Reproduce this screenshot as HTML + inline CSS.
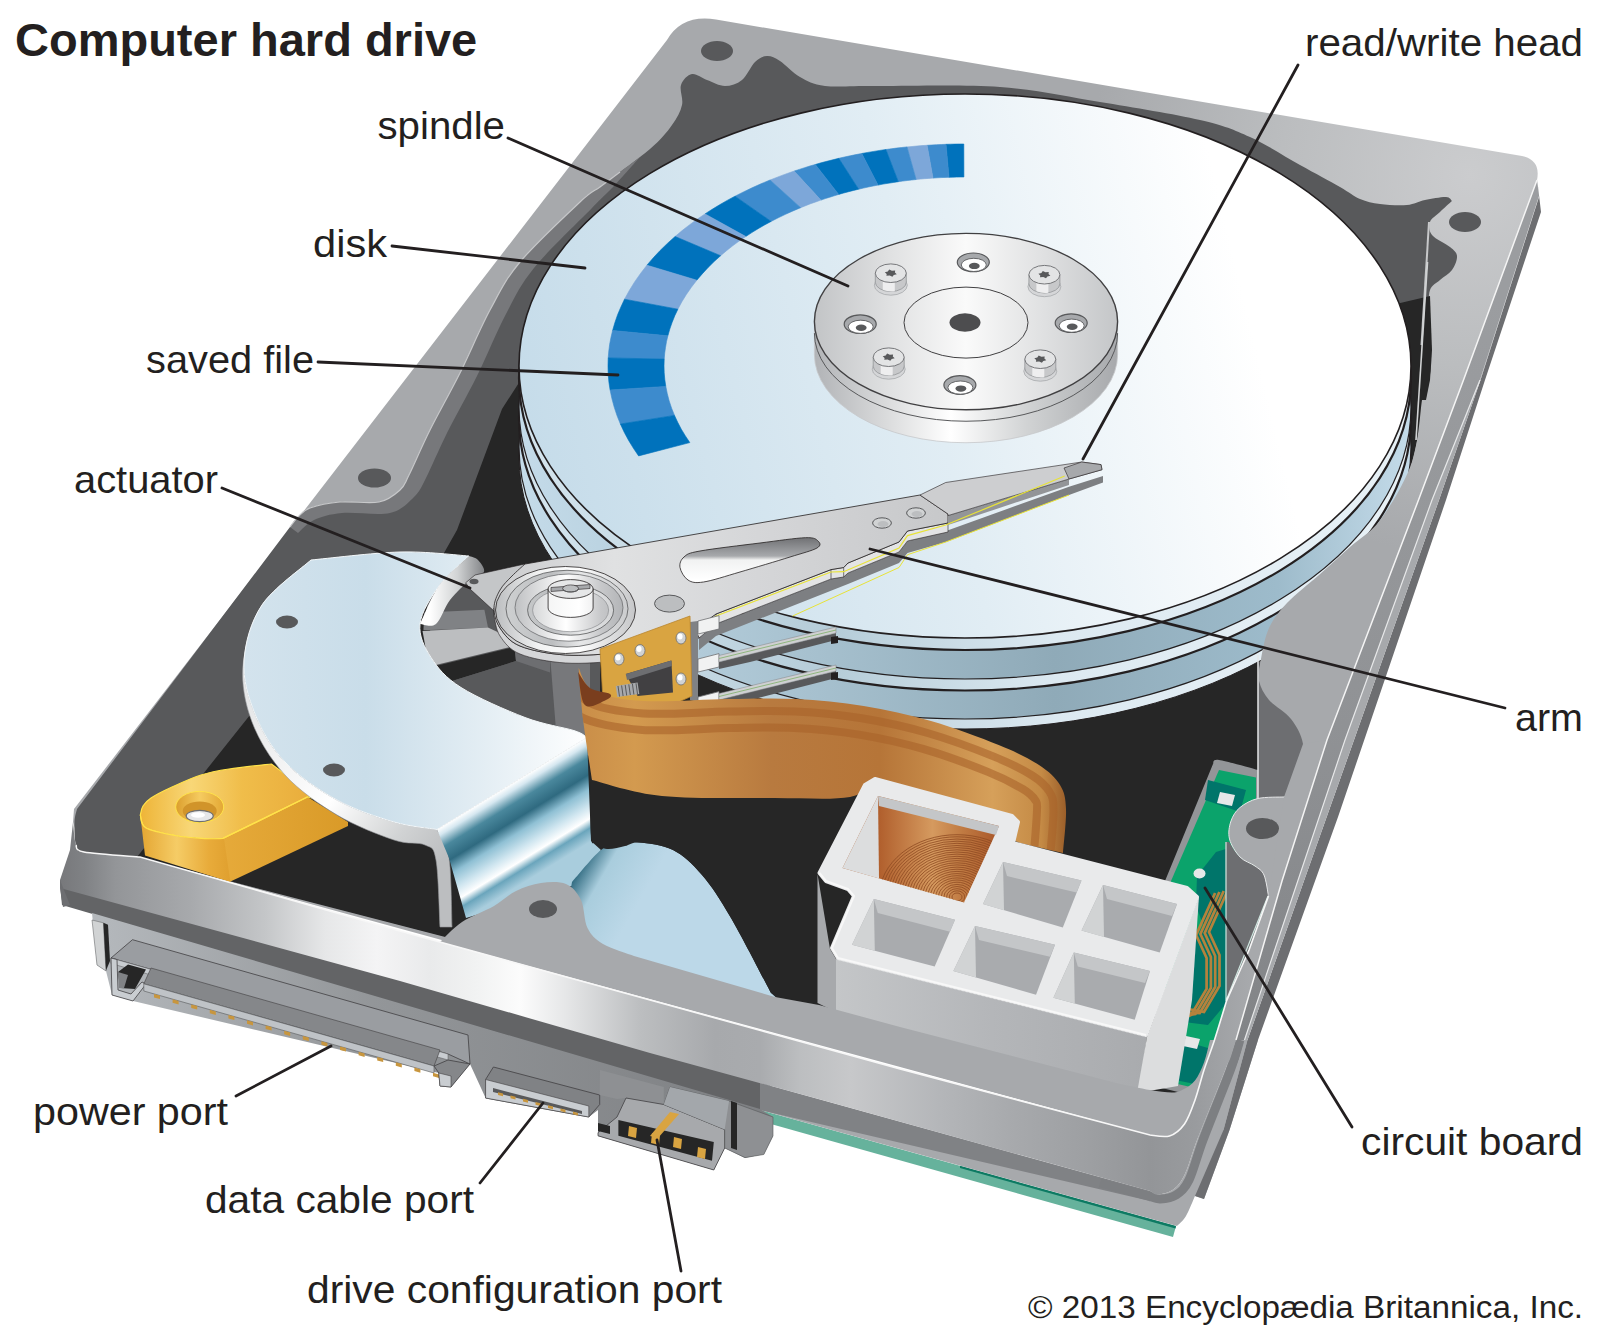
<!DOCTYPE html>
<html><head><meta charset="utf-8"><title>Computer hard drive</title>
<style>html,body{margin:0;padding:0;background:#fff}svg{display:block}text{font-family:"Liberation Sans",sans-serif;fill:#231f20}</style>
</head><body>
<svg width="1600" height="1334" viewBox="0 0 1600 1334">
<defs>
<radialGradient id="gtop" gradientUnits="userSpaceOnUse" cx="1470" cy="175" r="380"><stop offset="0" stop-color="#cbccce"/><stop offset="0.5" stop-color="#bbbdbf"/><stop offset="1" stop-color="#a7a9ac"/></radialGradient>
<linearGradient id="gdisk" gradientUnits="userSpaceOnUse" x1="520" y1="500" x2="1350" y2="300"><stop offset="0" stop-color="#c4dbe9"/><stop offset="0.5" stop-color="#e1edf4"/><stop offset="0.88" stop-color="#ffffff"/><stop offset="1" stop-color="#ffffff"/></linearGradient>
<linearGradient id="gsurf" gradientUnits="userSpaceOnUse" x1="520" y1="0" x2="1411" y2="0"><stop offset="0" stop-color="#c4dbe9"/><stop offset="0.3" stop-color="#a9c3d1"/><stop offset="0.6" stop-color="#8faab8"/><stop offset="0.85" stop-color="#9dbbcb"/><stop offset="1" stop-color="#c4dbe9"/></linearGradient>
<linearGradient id="gedge" gradientUnits="userSpaceOnUse" x1="520" y1="0" x2="1411" y2="0"><stop offset="0" stop-color="#d5e5ee"/><stop offset="0.35" stop-color="#b5ccd8"/><stop offset="0.6" stop-color="#dce9f1"/><stop offset="1" stop-color="#e8f1f6"/></linearGradient>
<linearGradient id="ghub" gradientUnits="userSpaceOnUse" x1="814" y1="0" x2="1118" y2="0"><stop offset="0" stop-color="#c2c4c6"/><stop offset="0.25" stop-color="#e0e1e2"/><stop offset="0.5" stop-color="#fafafa"/><stop offset="0.75" stop-color="#e0e1e2"/><stop offset="1" stop-color="#c4c6c8"/></linearGradient>
<linearGradient id="ghubs" gradientUnits="userSpaceOnUse" x1="814" y1="0" x2="1118" y2="0"><stop offset="0" stop-color="#b1b3b6"/><stop offset="0.25" stop-color="#dcddde"/><stop offset="0.45" stop-color="#ffffff"/><stop offset="0.7" stop-color="#d1d3d4"/><stop offset="1" stop-color="#a7a9ac"/></linearGradient>
<linearGradient id="gscr" gradientUnits="userSpaceOnUse" x1="0" y1="0" x2="1" y2="0"><stop offset="0" stop-color="#d1d3d4"/><stop offset="0.4" stop-color="#f4f4f5"/><stop offset="1" stop-color="#b1b3b6"/></linearGradient>
<linearGradient id="gyel" gradientUnits="userSpaceOnUse" x1="140" y1="0" x2="310" y2="0"><stop offset="0" stop-color="#eeb437"/><stop offset="0.3" stop-color="#f8d777"/><stop offset="0.6" stop-color="#f0bd4a"/><stop offset="1" stop-color="#e9ad3c"/></linearGradient>
<linearGradient id="gyelf" gradientUnits="userSpaceOnUse" x1="140" y1="0" x2="232" y2="0"><stop offset="0" stop-color="#e4a531"/><stop offset="0.4" stop-color="#f5cc66"/><stop offset="0.75" stop-color="#e8ab3a"/><stop offset="1" stop-color="#df9f2e"/></linearGradient>
<linearGradient id="gyelr" gradientUnits="userSpaceOnUse" x1="223" y1="0" x2="348" y2="0"><stop offset="0" stop-color="#e6aa3a"/><stop offset="1" stop-color="#d99a28"/></linearGradient>
<linearGradient id="gyelh" gradientUnits="userSpaceOnUse" x1="176" y1="0" x2="224" y2="0"><stop offset="0" stop-color="#dc9f2e"/><stop offset="0.5" stop-color="#f5cb60"/><stop offset="1" stop-color="#e3a734"/></linearGradient>
<linearGradient id="gplate" gradientUnits="userSpaceOnUse" x1="245" y1="0" x2="590" y2="0"><stop offset="0" stop-color="#d3e3ed"/><stop offset="0.35" stop-color="#c9dde9"/><stop offset="0.7" stop-color="#e4eef4"/><stop offset="1" stop-color="#ffffff"/></linearGradient>
<linearGradient id="grim" gradientUnits="userSpaceOnUse" x1="250" y1="700" x2="450" y2="850"><stop offset="0" stop-color="#e6e7e8"/><stop offset="0.5" stop-color="#ffffff"/><stop offset="0.8" stop-color="#d1d3d4"/><stop offset="1" stop-color="#bcbec0"/></linearGradient>
<linearGradient id="gcurl" gradientUnits="userSpaceOnUse" x1="430" y1="0" x2="485" y2="0"><stop offset="0" stop-color="#ffffff"/><stop offset="0.5" stop-color="#d1d3d4"/><stop offset="1" stop-color="#808285"/></linearGradient>
<linearGradient id="gfold" gradientUnits="userSpaceOnUse" x1="512" y1="783.5" x2="559.4" y2="860.7"><stop offset="0" stop-color="#ffffff"/><stop offset="0.07" stop-color="#d5e7f0"/><stop offset="0.2" stop-color="#4a889d"/><stop offset="0.36" stop-color="#2f6a80"/><stop offset="0.5" stop-color="#8fc0d4"/><stop offset="0.66" stop-color="#d0e6f0"/><stop offset="0.78" stop-color="#ffffff"/><stop offset="0.87" stop-color="#6aa5bc"/><stop offset="1" stop-color="#a9cddd"/></linearGradient>
<linearGradient id="glow" gradientUnits="userSpaceOnUse" x1="570" y1="860" x2="640" y2="900"><stop offset="0" stop-color="#ffffff"/><stop offset="0.15" stop-color="#2f6a80"/><stop offset="0.45" stop-color="#a9cddd"/><stop offset="1" stop-color="#bcd8e8"/></linearGradient>
<linearGradient id="garm" gradientUnits="userSpaceOnUse" x1="470" y1="0" x2="950" y2="0"><stop offset="0" stop-color="#c7c8ca"/><stop offset="0.3" stop-color="#e0e1e2"/><stop offset="0.6" stop-color="#d5d6d8"/><stop offset="1" stop-color="#c7c8ca"/></linearGradient>
<linearGradient id="gslot" gradientUnits="userSpaceOnUse" x1="0" y1="540" x2="0" y2="580"><stop offset="0" stop-color="#77787b"/><stop offset="0.4" stop-color="#a7a9ac"/><stop offset="0.5" stop-color="#f1f2f2"/><stop offset="1" stop-color="#ffffff"/></linearGradient>
<linearGradient id="ghb" gradientUnits="userSpaceOnUse" x1="496" y1="0" x2="634" y2="0"><stop offset="0" stop-color="#bcbec0"/><stop offset="0.3" stop-color="#f1f2f2"/><stop offset="0.6" stop-color="#ffffff"/><stop offset="1" stop-color="#c7c8ca"/></linearGradient>
<linearGradient id="ghb2" gradientUnits="userSpaceOnUse" x1="496" y1="0" x2="636" y2="0"><stop offset="0" stop-color="#a7a9ac"/><stop offset="0.3" stop-color="#dcddde"/><stop offset="0.5" stop-color="#ffffff"/><stop offset="0.75" stop-color="#c7c8ca"/><stop offset="1" stop-color="#a7a9ac"/></linearGradient>
<linearGradient id="ghb3" gradientUnits="userSpaceOnUse" x1="496" y1="0" x2="636" y2="0"><stop offset="0" stop-color="#d1d3d4"/><stop offset="0.4" stop-color="#bcbec0"/><stop offset="0.6" stop-color="#e6e7e8"/><stop offset="1" stop-color="#c7c8ca"/></linearGradient>
<linearGradient id="grib" gradientUnits="userSpaceOnUse" x1="576" y1="0" x2="1066" y2="0"><stop offset="0" stop-color="#c98d48"/><stop offset="0.12" stop-color="#d39a4f"/><stop offset="0.4" stop-color="#b87a3f"/><stop offset="0.62" stop-color="#b67538"/><stop offset="0.85" stop-color="#d6a05a"/><stop offset="0.95" stop-color="#c48a45"/><stop offset="1" stop-color="#9c5f2a"/></linearGradient>
<linearGradient id="gcf" gradientUnits="userSpaceOnUse" x1="836" y1="0" x2="1147" y2="0"><stop offset="0" stop-color="#c4c6c8"/><stop offset="0.5" stop-color="#b4b6b9"/><stop offset="1" stop-color="#a9abae"/></linearGradient>
<linearGradient id="gcop" gradientUnits="userSpaceOnUse" x1="878" y1="0" x2="999" y2="0"><stop offset="0" stop-color="#b05e2c"/><stop offset="0.45" stop-color="#d59a5f"/><stop offset="0.7" stop-color="#c07a42"/><stop offset="1" stop-color="#a9572a"/></linearGradient>
<linearGradient id="ghouse" gradientUnits="userSpaceOnUse" x1="100" y1="0" x2="780" y2="0"><stop offset="0" stop-color="#b4b8bc"/><stop offset="0.4" stop-color="#939699"/><stop offset="1" stop-color="#7d7f82"/></linearGradient>
<linearGradient id="gband" gradientUnits="userSpaceOnUse" x1="60" y1="0" x2="1250" y2="0"><stop offset="0.0" stop-color="#77787b"/><stop offset="0.021" stop-color="#808285"/><stop offset="0.0462" stop-color="#939598"/><stop offset="0.1092" stop-color="#a7a9ac"/><stop offset="0.1723" stop-color="#c4c6c8"/><stop offset="0.2227" stop-color="#e6e7e8"/><stop offset="0.2664" stop-color="#f4f4f5"/><stop offset="0.3109" stop-color="#e9eaeb"/><stop offset="0.3487" stop-color="#f1f2f2"/><stop offset="0.3866" stop-color="#fcfcfc"/><stop offset="0.4244" stop-color="#e6e7e8"/><stop offset="0.4874" stop-color="#bcbec0"/><stop offset="0.5504" stop-color="#a7a9ac"/><stop offset="0.5882" stop-color="#a9abae"/><stop offset="0.6218" stop-color="#bcbec0"/><stop offset="0.6639" stop-color="#c7c8ca"/><stop offset="0.7395" stop-color="#b4b6b9"/><stop offset="0.8025" stop-color="#a7a9ac"/><stop offset="0.8655" stop-color="#9d9fa2"/><stop offset="0.916" stop-color="#939598"/><stop offset="0.9538" stop-color="#999b9e"/><stop offset="1.0" stop-color="#a7a9ac"/></linearGradient>
<linearGradient id="gside" gradientUnits="userSpaceOnUse" x1="0" y1="300" x2="0" y2="1150"><stop offset="0" stop-color="#9b9da0"/><stop offset="0.5" stop-color="#909295"/><stop offset="1" stop-color="#7d7f82"/></linearGradient>
</defs>
<path d="M667,40 Q682,14 716,19.5 L1522,156 Q1541,160 1537,180 L1463.5,380 L1418.5,500 L1327,740 L1282,881 L1236,1040 L1225,1070 L1198,1137 L1150,1135 L140,857 L82,850 L73,822 L74,809 Z" fill="url(#gtop)" />
<path d="M1452.0,201.0 C1450.0,202.8 1443.7,208.5 1440.0,212.0 C1436.3,215.5 1431.3,218.2 1430.0,222.0 C1428.7,225.8 1428.7,230.8 1432.0,235.0 C1435.3,239.2 1445.8,243.5 1450.0,247.0 C1454.2,250.5 1456.7,252.2 1457.0,256.0 C1457.3,259.8 1454.8,266.0 1452.0,270.0 C1449.2,274.0 1443.7,276.7 1440.0,280.0 C1436.3,283.3 1431.8,284.7 1430.0,290.0 C1428.2,295.3 1428.8,302.0 1429.0,312.0 C1429.2,322.0 1430.8,339.5 1431.0,350.0 C1431.2,360.5 1431.5,366.7 1430.0,375.0 C1428.5,383.3 1425.0,385.5 1422.0,400.0 C1419.0,414.5 1418.8,442.2 1412.0,462.0 C1405.2,481.8 1391.3,504.8 1381.0,519.0 C1370.7,533.2 1360.3,537.7 1350.0,547.0 C1339.7,556.3 1329.5,565.7 1319.0,575.0 C1308.5,584.3 1295.3,594.2 1287.0,603.0 C1278.7,611.8 1273.3,618.7 1269.0,628.0 C1264.7,637.3 1262.7,650.2 1261.0,659.0 C1259.3,667.8 1259.3,677.3 1259.0,681.0 L1258.0,800.0 L1190.0,1080.0 L1150.0,1120.0 L140.0,857.0 C130.7,856.2 94.7,854.0 84.0,852.0 C73.3,850.0 77.6,850.0 76.0,845.0 C74.4,840.0 74.3,828.0 74.5,822.0 C74.7,816.0 76.6,811.2 77.0,809.0 L290.0,527.0 C291.3,525.3 294.7,520.2 298.0,517.0 C301.3,513.8 303.0,510.5 310.0,508.0 C317.0,505.5 328.5,503.0 340.0,502.0 C351.5,501.0 369.0,504.0 379.0,502.0 C389.0,500.0 395.0,494.5 400.0,490.0 C405.0,485.5 404.0,485.0 409.0,475.0 C414.0,465.0 421.5,447.0 430.0,430.0 C438.5,413.0 450.0,393.0 460.0,373.0 C470.0,353.0 480.0,328.5 490.0,310.0 C500.0,291.5 505.0,280.0 520.0,262.0 C535.0,244.0 566.7,214.5 580.0,202.0 C593.3,189.5 588.3,195.8 600.0,187.0 C611.7,178.2 638.0,159.3 650.0,149.0 C662.0,138.7 666.7,132.3 672.0,125.0 C677.3,117.7 680.5,111.7 682.0,105.0 C683.5,98.3 679.3,90.2 681.0,85.0 C682.7,79.8 687.7,74.8 692.0,74.0 C696.3,73.2 701.5,78.0 707.0,80.0 C712.5,82.0 719.2,86.0 725.0,86.0 C730.8,86.0 737.0,84.0 742.0,80.0 C747.0,76.0 750.8,66.0 755.0,62.0 C759.2,58.0 762.8,56.2 767.0,56.0 C771.2,55.8 774.5,57.5 780.0,61.0 C785.5,64.5 792.5,72.8 800.0,77.0 C807.5,81.2 812.5,84.5 825.0,86.0 C837.5,87.5 845.8,85.8 875.0,86.0 C904.2,86.2 962.5,84.3 1000.0,87.0 C1037.5,89.7 1066.7,96.5 1100.0,102.0 C1133.3,107.5 1175.0,114.2 1200.0,120.0 C1225.0,125.8 1233.3,129.5 1250.0,137.0 C1266.7,144.5 1285.0,156.7 1300.0,165.0 C1315.0,173.3 1330.0,181.3 1340.0,187.0 C1350.0,192.7 1353.3,196.2 1360.0,199.0 C1366.7,201.8 1372.2,203.0 1380.0,204.0 C1387.8,205.0 1399.5,205.7 1407.0,205.0 C1414.5,204.3 1418.5,201.3 1425.0,200.0 C1431.5,198.7 1441.5,196.8 1446.0,197.0 C1450.5,197.2 1451.0,200.3 1452.0,201.0Z" fill="#58595b" />
<path d="M640.0,157.0 C633.3,162.0 610.0,179.5 600.0,187.0 C590.0,194.5 593.3,189.5 580.0,202.0 C566.7,214.5 535.0,244.0 520.0,262.0 C505.0,280.0 500.0,291.5 490.0,310.0 C480.0,328.5 470.0,353.0 460.0,373.0 C450.0,393.0 438.5,413.0 430.0,430.0 C421.5,447.0 414.0,465.0 409.0,475.0 C404.0,485.0 405.0,485.5 400.0,490.0 C395.0,494.5 389.0,500.0 379.0,502.0 C369.0,504.0 351.5,501.0 340.0,502.0 C328.5,503.0 317.0,505.5 310.0,508.0 C303.0,510.5 301.3,513.8 298.0,517.0 C294.7,520.2 291.3,525.3 290.0,527.0 L298.0,533.0 C300.7,530.8 306.7,523.3 314.0,520.0 C321.3,516.7 329.3,514.2 342.0,513.0 C354.7,511.8 378.0,515.7 390.0,513.0 C402.0,510.3 408.0,502.8 414.0,497.0 C420.0,491.2 420.5,488.7 426.0,478.0 C431.5,467.3 438.5,450.0 447.0,433.0 C455.5,416.0 467.2,395.8 477.0,376.0 C486.8,356.2 496.5,332.0 506.0,314.0 C515.5,296.0 519.7,285.7 534.0,268.0 C548.3,250.3 578.7,221.7 592.0,208.0 C605.3,194.3 606.0,194.5 614.0,186.0 C622.0,177.5 635.7,161.8 640.0,157.0Z" fill="#77787b" />
<path d="M620.0,172.0 C616.7,174.5 606.7,182.0 600.0,187.0 C593.3,192.0 593.3,189.5 580.0,202.0 C566.7,214.5 535.0,244.0 520.0,262.0 C505.0,280.0 500.0,291.5 490.0,310.0 C480.0,328.5 470.0,353.0 460.0,373.0 C450.0,393.0 438.5,413.0 430.0,430.0 C421.5,447.0 414.0,465.0 409.0,475.0 C404.0,485.0 405.0,485.5 400.0,490.0 C395.0,494.5 389.0,500.0 379.0,502.0 C369.0,504.0 351.5,501.0 340.0,502.0 C328.5,503.0 317.0,505.5 310.0,508.0 C303.0,510.5 301.3,513.8 298.0,517.0 C294.7,520.2 291.3,525.3 290.0,527.0" fill="none" stroke="#c7c8ca" stroke-width="1.2" />
<path d="M522.0,378.0 L502.0,409.0 L457.0,530.0 L440.0,560.0 L250.0,715.0 L137.0,857.0 L1150.0,1120.0 L1190.0,1080.0 L1258.0,800.0 L1258.0,640.0 L1000.0,700.0Z" fill="#262626" />
<path d="M1396.0,304.0 L1430.0,296.0 L1432.0,350.0 L1430.0,380.0 L1422.0,420.0 L1412.0,462.0 L1395.0,505.0 L1370.0,505.0Z" fill="#262626" />
<ellipse cx="965" cy="457" rx="446" ry="272" fill="url(#gedge)" stroke="#231f20" stroke-width="1" />
<ellipse cx="965" cy="447" rx="446" ry="272" fill="url(#gsurf)" stroke="#231f20" stroke-width="1.2" />
<ellipse cx="965" cy="418.5" rx="446" ry="272" fill="url(#gedge)" stroke="#231f20" stroke-width="2.2" />
<ellipse cx="965" cy="407" rx="446" ry="272" fill="url(#gsurf)" stroke="#231f20" stroke-width="1.2" />
<ellipse cx="965" cy="378" rx="446" ry="272" fill="url(#gedge)" stroke="#231f20" stroke-width="2.2" />
<ellipse cx="965" cy="366" rx="446" ry="272" fill="url(#gdisk)" stroke="#231f20" stroke-width="1.6" />
<path d="M1422.0,400.0 C1420.3,410.3 1418.8,442.2 1412.0,462.0 C1405.2,481.8 1391.3,504.8 1381.0,519.0 C1370.7,533.2 1360.3,537.7 1350.0,547.0 C1339.7,556.3 1329.5,565.7 1319.0,575.0 C1308.5,584.3 1295.3,594.2 1287.0,603.0 C1278.7,611.8 1273.3,618.7 1269.0,628.0 C1264.7,637.3 1262.7,650.2 1261.0,659.0 C1259.3,667.8 1257.7,674.2 1259.0,681.0 C1260.3,687.8 1263.7,693.7 1269.0,700.0 C1274.3,706.3 1285.3,711.7 1291.0,719.0 C1296.7,726.3 1301.0,739.8 1303.0,744.0 L1327.0,740.0 L1456.0,400.0 L1422.0,400.0Z" fill="url(#gtop)" />
<path d="M1429,222 L1421.5,345" fill="none" stroke="#c7c8ca" stroke-width="2" />
<path d="M1427.5,262 L1416,440" fill="none" stroke="#d1d3d4" stroke-width="1.6" />
<path d="M963.8,144.0 L959.3,144.0 L954.9,144.1 L950.4,144.2 L946.0,144.3 L949.0,177.3 L952.7,177.2 L956.5,177.1 L960.2,177.0 L963.9,177.0Z" fill="#0072bc" stroke="#0072bc" stroke-width="0.6" />
<path d="M946.0,144.3 L941.3,144.5 L936.5,144.7 L931.8,145.0 L927.1,145.3 L933.0,178.1 L937.0,177.8 L941.0,177.6 L945.0,177.4 L949.0,177.3Z" fill="#3d8bcd" stroke="#3d8bcd" stroke-width="0.6" />
<path d="M927.1,145.3 L922.0,145.6 L917.0,146.0 L912.0,146.5 L907.0,146.9 L916.1,179.5 L920.3,179.1 L924.5,178.7 L928.8,178.4 L933.0,178.1Z" fill="#7da7d9" stroke="#7da7d9" stroke-width="0.6" />
<path d="M907.0,146.9 L901.7,147.5 L896.4,148.1 L891.2,148.8 L885.9,149.5 L898.3,181.7 L902.7,181.1 L907.2,180.5 L911.6,180.0 L916.1,179.5Z" fill="#3d8bcd" stroke="#3d8bcd" stroke-width="0.6" />
<path d="M885.9,149.5 L879.8,150.4 L873.8,151.4 L867.8,152.4 L861.8,153.5 L878.0,185.1 L883.0,184.1 L888.1,183.3 L893.2,182.5 L898.3,181.7Z" fill="#0072bc" stroke="#0072bc" stroke-width="0.6" />
<path d="M861.8,153.5 L856.0,154.6 L850.2,155.8 L844.5,157.0 L838.8,158.3 L858.6,189.2 L863.4,188.1 L868.2,187.0 L873.1,186.0 L878.0,185.1Z" fill="#3d8bcd" stroke="#3d8bcd" stroke-width="0.6" />
<path d="M838.8,158.3 L832.9,159.8 L826.9,161.3 L821.1,162.8 L815.3,164.5 L838.7,194.4 L843.7,193.0 L848.6,191.7 L853.6,190.4 L858.6,189.2Z" fill="#0072bc" stroke="#0072bc" stroke-width="0.6" />
<path d="M815.3,164.5 L809.9,166.0 L804.6,167.7 L799.3,169.4 L794.1,171.1 L820.9,200.1 L825.3,198.6 L829.8,197.2 L834.2,195.8 L838.7,194.4Z" fill="#3d8bcd" stroke="#3d8bcd" stroke-width="0.6" />
<path d="M794.1,171.1 L788.0,173.2 L781.9,175.4 L776.0,177.7 L770.0,180.0 L800.6,207.7 L805.6,205.7 L810.6,203.7 L815.8,201.9 L820.9,200.1Z" fill="#7da7d9" stroke="#7da7d9" stroke-width="0.6" />
<path d="M770.0,180.0 L761.0,183.8 L752.1,187.8 L743.5,191.9 L735.0,196.2 L771.1,221.4 L778.2,217.8 L785.5,214.3 L793.0,210.9 L800.6,207.7Z" fill="#3d8bcd" stroke="#3d8bcd" stroke-width="0.6" />
<path d="M735.0,196.2 L727.2,200.4 L719.6,204.8 L712.2,209.3 L705.0,213.9 L745.8,236.5 L751.8,232.6 L758.1,228.7 L764.5,225.0 L771.1,221.4Z" fill="#0072bc" stroke="#0072bc" stroke-width="0.6" />
<path d="M705.0,213.9 L697.1,219.3 L689.4,224.9 L682.1,230.6 L675.1,236.5 L720.6,255.7 L726.5,250.7 L732.7,245.8 L739.1,241.1 L745.8,236.5Z" fill="#7da7d9" stroke="#7da7d9" stroke-width="0.6" />
<path d="M675.1,236.5 L667.4,243.4 L660.1,250.5 L653.3,257.8 L646.9,265.2 L696.8,280.2 L702.2,273.9 L707.9,267.7 L714.1,261.6 L720.6,255.7Z" fill="#0072bc" stroke="#0072bc" stroke-width="0.6" />
<path d="M646.9,265.2 L640.5,273.5 L634.6,281.9 L629.3,290.5 L624.5,299.2 L677.9,309.2 L681.9,301.7 L686.4,294.4 L691.4,287.2 L696.8,280.2Z" fill="#7da7d9" stroke="#7da7d9" stroke-width="0.6" />
<path d="M624.5,299.2 L620.9,307.0 L617.6,314.7 L614.9,322.6 L612.6,330.5 L667.9,335.8 L669.8,329.0 L672.1,322.4 L674.8,315.7 L677.9,309.2Z" fill="#0072bc" stroke="#0072bc" stroke-width="0.6" />
<path d="M612.6,330.5 L611.0,337.3 L609.7,344.1 L608.8,351.0 L608.2,357.9 L664.2,359.1 L664.7,353.2 L665.5,347.4 L666.5,341.6 L667.9,335.8Z" fill="#3d8bcd" stroke="#3d8bcd" stroke-width="0.6" />
<path d="M608.2,357.9 L608.0,365.9 L608.2,373.9 L608.9,382.0 L610.1,390.0 L665.8,386.4 L664.8,379.6 L664.2,372.8 L664.0,365.9 L664.2,359.1Z" fill="#0072bc" stroke="#0072bc" stroke-width="0.6" />
<path d="M610.1,390.0 L611.9,398.6 L614.2,407.1 L617.0,415.6 L620.4,424.0 L674.5,415.4 L671.6,408.2 L669.2,401.0 L667.3,393.7 L665.8,386.4Z" fill="#3d8bcd" stroke="#3d8bcd" stroke-width="0.6" />
<path d="M620.4,424.0 L624.2,432.2 L628.5,440.2 L633.3,448.1 L638.6,455.9 L689.8,442.6 L685.4,435.9 L681.3,429.2 L677.7,422.3 L674.5,415.4Z" fill="#0072bc" stroke="#0072bc" stroke-width="0.6" />
<path d="M814.4,321.6 L814.4,354.6 A151.6,88.2 0 0 0 1117.6,354.6 L1117.6,321.6 Z" fill="url(#ghubs)" stroke="#c7c8ca" stroke-width="0.8" />
<path d="M814.4,333.1 A151.6,88.2 0 0 0 1117.6,333.1" fill="none" stroke="#58595b" stroke-width="1" />
<ellipse cx="966" cy="321.6" rx="151.6" ry="88.2" fill="url(#ghub)" stroke="#414042" stroke-width="1.4" />
<ellipse cx="966" cy="322.6" rx="62" ry="35.5" fill="none" stroke="#414042" stroke-width="1" />
<ellipse cx="965" cy="322.5" rx="15.5" ry="9.3" fill="#4d4d4f" />
<ellipse cx="890.8" cy="285.2" rx="16.5" ry="10" fill="#d5d6d8" stroke="#a7a9ac" stroke-width="0.8" />
<path d="M875.3,273.2 L875.3,282.2 A15.5,9.3 0 0 0 906.3,282.2 L906.3,273.2 Z" fill="#c7c8ca" stroke="#939598" stroke-width="0.8"/>
<path d="M882.8,281.2 L882.8,289.7 A15.5,9.3 0 0 0 894.8,291.2 L894.8,282.2 Z" fill="#eeeeef"/>
<ellipse cx="890.8" cy="273.2" rx="15.5" ry="9.3" fill="#e3e4e5" stroke="#77787b" stroke-width="1" />
<path d="M896.8,274.2 L893.8,275.0 L892.4,276.8 L889.7,275.6 L886.4,275.8 L886.7,273.9 L884.8,272.2 L887.8,271.4 L889.2,269.6 L891.9,270.8 L895.2,270.6 L894.9,272.5Z" fill="#58595b" />
<ellipse cx="1044.4" cy="286.7" rx="16.5" ry="10" fill="#d5d6d8" stroke="#a7a9ac" stroke-width="0.8" />
<path d="M1028.9,274.7 L1028.9,283.7 A15.5,9.3 0 0 0 1059.9,283.7 L1059.9,274.7 Z" fill="#c7c8ca" stroke="#939598" stroke-width="0.8"/>
<path d="M1036.4,282.7 L1036.4,291.2 A15.5,9.3 0 0 0 1048.4,292.7 L1048.4,283.7 Z" fill="#eeeeef"/>
<ellipse cx="1044.4" cy="274.7" rx="15.5" ry="9.3" fill="#e3e4e5" stroke="#77787b" stroke-width="1" />
<path d="M1050.4,275.7 L1047.4,276.5 L1046.0,278.3 L1043.3,277.1 L1040.0,277.3 L1040.3,275.4 L1038.4,273.7 L1041.4,272.9 L1042.8,271.1 L1045.5,272.3 L1048.8,272.1 L1048.5,274.0Z" fill="#58595b" />
<ellipse cx="888.7" cy="369.2" rx="16.5" ry="10" fill="#d5d6d8" stroke="#a7a9ac" stroke-width="0.8" />
<path d="M873.2,357.2 L873.2,366.2 A15.5,9.3 0 0 0 904.2,366.2 L904.2,357.2 Z" fill="#c7c8ca" stroke="#939598" stroke-width="0.8"/>
<path d="M880.7,365.2 L880.7,373.7 A15.5,9.3 0 0 0 892.7,375.2 L892.7,366.2 Z" fill="#eeeeef"/>
<ellipse cx="888.7" cy="357.2" rx="15.5" ry="9.3" fill="#e3e4e5" stroke="#77787b" stroke-width="1" />
<path d="M894.7,358.2 L891.7,359.0 L890.3,360.8 L887.6,359.6 L884.3,359.8 L884.6,357.9 L882.7,356.2 L885.7,355.4 L887.1,353.6 L889.8,354.8 L893.1,354.6 L892.8,356.5Z" fill="#58595b" />
<ellipse cx="1040.3" cy="371.2" rx="16.5" ry="10" fill="#d5d6d8" stroke="#a7a9ac" stroke-width="0.8" />
<path d="M1024.8,359.2 L1024.8,368.2 A15.5,9.3 0 0 0 1055.8,368.2 L1055.8,359.2 Z" fill="#c7c8ca" stroke="#939598" stroke-width="0.8"/>
<path d="M1032.3,367.2 L1032.3,375.7 A15.5,9.3 0 0 0 1044.3,377.2 L1044.3,368.2 Z" fill="#eeeeef"/>
<ellipse cx="1040.3" cy="359.2" rx="15.5" ry="9.3" fill="#e3e4e5" stroke="#77787b" stroke-width="1" />
<path d="M1046.3,360.2 L1043.3,361.0 L1041.9,362.8 L1039.2,361.6 L1035.9,361.8 L1036.2,359.9 L1034.3,358.2 L1037.3,357.4 L1038.7,355.6 L1041.4,356.8 L1044.7,356.6 L1044.4,358.5Z" fill="#58595b" />
<ellipse cx="973.3" cy="262.3" rx="16" ry="9.3" fill="#a7a9ac" stroke="#58595b" stroke-width="1.2" />
<ellipse cx="973.8" cy="264.90000000000003" rx="12.5" ry="6.6" fill="#ffffff" stroke="#58595b" stroke-width="0.9" />
<ellipse cx="974.3" cy="265.90000000000003" rx="5.4" ry="3.2" fill="#58595b" />
<ellipse cx="860.2" cy="324.2" rx="16" ry="9.3" fill="#a7a9ac" stroke="#58595b" stroke-width="1.2" />
<ellipse cx="860.7" cy="326.8" rx="12.5" ry="6.6" fill="#ffffff" stroke="#58595b" stroke-width="0.9" />
<ellipse cx="861.2" cy="327.8" rx="5.4" ry="3.2" fill="#58595b" />
<ellipse cx="1071.2" cy="323.1" rx="16" ry="9.3" fill="#a7a9ac" stroke="#58595b" stroke-width="1.2" />
<ellipse cx="1071.7" cy="325.70000000000005" rx="12.5" ry="6.6" fill="#ffffff" stroke="#58595b" stroke-width="0.9" />
<ellipse cx="1072.2" cy="326.70000000000005" rx="5.4" ry="3.2" fill="#58595b" />
<ellipse cx="959.9" cy="385" rx="16" ry="9.3" fill="#a7a9ac" stroke="#58595b" stroke-width="1.2" />
<ellipse cx="960.4" cy="387.6" rx="12.5" ry="6.6" fill="#ffffff" stroke="#58595b" stroke-width="0.9" />
<ellipse cx="960.9" cy="388.6" rx="5.4" ry="3.2" fill="#58595b" />
<text x="15" y="56" font-size="47" text-anchor="start" font-weight="bold">Computer hard drive</text>
<path d="M420.0,560.0 L600.0,600.0 L600.0,760.0 L440.0,700.0Z" fill="#58595b" />
<path d="M424.4,612.5 L484.4,609.7 L488.0,627.5 L423.4,630.3Z" fill="#808285" />
<path d="M422.5,631.0 L488.0,627.5 L497.5,632.0 L514.4,646.0 L435.6,665.0 L426.0,650.0Z" fill="#bcbec0" />
<path d="M435.6,666.0 L514.4,647.0 L516.0,661.0 L448.8,682.0Z" fill="#262626" />
<path d="M448.8,682.0 L516.0,661.0 L550.0,672.5 L555.6,725.0 L490.0,708.0Z" fill="#58595b" />
<path d="M514.4,646.0 L550.0,659.0 L550.0,672.5 L516.0,661.0Z" fill="#6d6e71" />
<path d="M550.0,655.0 L590.0,650.0 L590.0,740.0 L555.6,725.0Z" fill="#77787b" />
<path d="M223.0,838.4 L307.5,797.0 L348.0,822.0 L348.0,826.0 L229.4,882.0 L223.0,838.4Z" fill="url(#gyelr)" />
<path d="M140.3,815.0 C140.8,813.5 141.2,808.8 143.0,806.0 C144.8,803.2 146.2,801.2 151.0,798.0 C155.8,794.8 163.7,790.8 172.0,787.0 C180.3,783.2 191.5,778.0 201.0,775.0 C210.5,772.0 217.2,770.8 229.0,769.0 C240.8,767.2 264.4,764.8 271.5,764.0 L320.0,800.0 L307.5,797.0 L223.0,838.4 C220.0,838.4 213.0,839.1 205.0,838.6 C197.0,838.1 184.8,837.3 175.0,835.5 C165.2,833.7 151.8,831.4 146.0,828.0 C140.2,824.6 141.2,817.2 140.3,815.0Z" fill="url(#gyel)" stroke="#ffe24a" stroke-width="1.2" />
<path d="M140.3,815.0 C141.2,817.2 140.2,824.6 146.0,828.0 C151.8,831.4 165.2,833.7 175.0,835.5 C184.8,837.3 196.8,838.1 205.0,838.6 C213.2,839.1 220.8,838.4 224.0,838.4 L230.4,882.0 L145.0,855.6 L140.3,815.0Z" fill="url(#gyelf)" />
<path d="M140.3,815.0 C141.2,817.2 140.2,824.6 146.0,828.0 C151.8,831.4 165.2,833.7 175.0,835.5 C184.8,837.3 197.0,838.1 205.0,838.6 C213.0,839.1 220.0,838.4 223.0,838.4 L307.5,797.0" fill="none" stroke="#ffe24a" stroke-width="1.2" />
<ellipse cx="199.7" cy="807" rx="24" ry="15.6" fill="url(#gyelh)" stroke="#ffe24a" stroke-width="1" />
<ellipse cx="199.7" cy="811" rx="17" ry="9.5" fill="#d1942a" />
<ellipse cx="199.7" cy="816" rx="13.5" ry="5.6" fill="#e6e7e8" stroke="#6d6e71" stroke-width="1.2" />
<ellipse cx="198" cy="815" rx="7" ry="2.8" fill="#ffffff" />
<path d="M311.0,560.0 C302.8,567.5 273.2,588.2 262.0,605.0 C250.8,621.8 245.2,642.8 244.0,661.0 C242.8,679.2 248.2,697.2 255.0,714.0 C261.8,730.8 271.3,747.7 285.0,762.0 C298.7,776.3 318.8,790.0 337.0,800.0 C355.2,810.0 377.3,817.1 394.0,822.0 C410.7,826.9 429.8,828.2 437.0,829.5 C439.0,834.2 446.5,841.8 449.0,858.0 C451.5,874.2 451.5,915.5 452.0,927.0 L440.0,927.0 C439.3,915.8 438.5,873.7 436.0,860.0 C433.5,846.3 432.0,848.3 425.0,845.0 C418.0,841.7 408.7,845.0 394.0,840.0 C379.3,835.0 355.2,825.8 337.0,815.0 C318.8,804.2 299.2,790.5 285.0,775.0 C270.8,759.5 259.0,740.3 252.0,722.0 C245.0,703.7 241.3,683.3 243.0,665.0 C244.7,646.7 250.7,629.5 262.0,612.0 C273.3,594.5 302.8,568.7 311.0,560.0Z" fill="url(#grim)" stroke="#939598" stroke-width="0.6" />
<path d="M311.0,560.0 C302.8,567.5 273.2,588.2 262.0,605.0 C250.8,621.8 245.2,642.8 244.0,661.0 C242.8,679.2 248.2,697.2 255.0,714.0 C261.8,730.8 271.3,747.7 285.0,762.0 C298.7,776.3 318.8,790.0 337.0,800.0 C355.2,810.0 377.3,817.1 394.0,822.0 C410.7,826.9 429.8,828.2 437.0,829.5 L587.0,737.5 C584.8,736.4 584.3,733.9 574.0,730.6 C563.7,727.3 543.8,724.7 525.0,717.5 C506.2,710.3 476.7,697.5 461.0,687.5 C445.3,677.5 437.8,668.1 431.0,657.5 C424.2,646.9 418.7,635.9 420.0,624.0 C421.3,612.1 430.8,597.3 439.0,586.0 C447.2,574.7 464.0,561.0 469.0,556.0 C457.5,555.3 426.3,551.3 400.0,552.0 C373.7,552.7 325.8,558.7 311.0,560.0Z" fill="url(#gplate)" stroke="#f4f8fa" stroke-width="1" />
<ellipse cx="287" cy="622" rx="11" ry="6.5" fill="#58595b" />
<ellipse cx="334" cy="770" rx="11" ry="6.5" fill="#58595b" />
<path d="M469.0,556.0 C470.5,556.7 475.5,557.3 478.0,560.0 C480.5,562.7 485.3,568.7 484.0,572.0 C482.7,575.3 475.7,575.3 470.0,580.0 C464.3,584.7 455.7,592.7 450.0,600.0 C444.3,607.3 441.0,620.0 436.0,624.0 C431.0,628.0 422.7,624.0 420.0,624.0 C423.2,617.7 430.8,597.3 439.0,586.0 C447.2,574.7 464.0,561.0 469.0,556.0Z" fill="url(#gcurl)" />
<path d="M587.0,737.5 L437.0,829.5 L449.0,858.0 L466.0,918.0 L575.0,885.0 L601.0,850.0 L591.0,841.0Z" fill="url(#gfold)" />
<path d="M572.0,882.0 C576.8,876.7 593.0,856.2 601.0,850.0 C609.0,843.8 613.7,846.2 620.0,845.0 C626.3,843.8 630.2,841.7 639.0,842.5 C647.8,843.3 662.5,844.6 673.0,850.0 C683.5,855.4 692.3,863.7 702.0,875.0 C711.7,886.3 719.5,898.3 731.0,918.0 C742.5,937.7 764.3,980.5 771.0,993.0 L790.0,1010.0 L560.0,950.0 L572.0,882.0Z" fill="url(#glow)" />
<path d="M591.0,760.0 C591.0,772.5 590.2,821.2 591.0,835.0 C591.8,848.8 593.3,840.7 596.0,843.0 C598.7,845.3 602.2,848.5 607.0,849.0 C611.8,849.5 619.7,847.1 625.0,846.0 C630.3,844.9 631.0,841.8 639.0,842.5 C647.0,843.2 662.5,844.6 673.0,850.0 C683.5,855.4 692.3,863.7 702.0,875.0 C711.7,886.3 719.5,898.3 731.0,918.0 C742.5,937.7 764.3,980.5 771.0,993.0 L830.0,1010.0 L830.0,760.0 L591.0,760.0Z" fill="#262626" />
<path d="M699.0,638.0 L716.0,624.0 L831.0,579.0 L848.0,573.0 L899.0,552.0 L907.5,541.0 L946.0,531.0 L1069.0,486.7 L1103.0,476.0 L1103.0,482.5 L1069.0,495.0 L946.0,542.0 L907.5,553.0 L899.0,563.0 L848.0,584.0 L716.0,636.0 L699.0,650.0Z" fill="#7d7f82" />
<path d="M792.7,616.0 L899.0,567.5 L907.5,554.7 L945.7,542.0 L1069.0,495.0" fill="none" stroke="#e8e337" stroke-width="1" />
<path d="M527.0,563.5 L475.0,575.0 L465.6,582.8 L470.0,589.0 L494.0,611.0 L505.0,600.0 L515.0,576.0Z" fill="#c4c6c8" stroke="#231f20" stroke-width="0.6" />
<ellipse cx="474" cy="581.5" rx="4.5" ry="2.7" fill="#58595b" />
<path d="M695.0,629.0 L716.0,614.0 L831.0,569.6 L843.7,567.5 L848.0,563.0 L899.0,542.0 L907.5,531.0 L948.0,523.0 L948.0,532.0 L907.5,541.0 L899.0,552.0 L848.0,573.0 L843.7,577.0 L831.0,579.0 L716.0,624.0 L699.0,638.0Z" fill="#e3e4e5" stroke="#231f20" stroke-width="0.6" />
<path d="M716,614 L716,624 M831,569.6 L831,579 M843.7,567.5 L843.7,577" fill="none" stroke="#231f20" stroke-width="0.6" />
<path d="M695.0,629.0 C689.2,631.7 672.5,641.1 660.0,645.0 C647.5,648.9 635.8,650.8 620.0,652.5 C604.2,654.2 582.2,656.1 565.5,655.0 C548.8,653.9 530.9,650.5 520.0,646.0 C509.1,641.5 504.3,634.3 500.0,628.0 C495.7,621.7 495.0,611.3 494.0,608.0 L494.0,616.0 C495.0,619.3 495.7,629.7 500.0,636.0 C504.3,642.3 509.1,649.5 520.0,654.0 C530.9,658.5 548.8,661.9 565.5,663.0 C582.2,664.1 604.2,662.2 620.0,660.5 C635.8,658.8 646.8,656.8 660.0,653.0 C673.2,649.2 692.5,640.5 699.0,638.0 L695.0,629.0Z" fill="#d5d6d8" stroke="#231f20" stroke-width="0.6" />
<path d="M525.0,564.0 L920.0,495.0 L948.0,514.0 L948.0,523.0 L907.5,531.0 L899.0,542.0 L848.0,563.0 L843.7,567.5 L831.0,569.6 L716.0,614.0 L695.0,629.0 C689.2,631.7 672.5,641.1 660.0,645.0 C647.5,648.9 635.8,650.8 620.0,652.5 C604.2,654.2 582.2,656.1 565.5,655.0 C548.8,653.9 530.9,650.5 520.0,646.0 C509.1,641.5 504.3,634.3 500.0,628.0 C495.7,621.7 494.0,614.3 494.0,608.0 C494.0,601.7 497.0,595.3 500.0,590.0 C503.0,584.7 507.8,580.3 512.0,576.0 C516.2,571.7 522.8,566.0 525.0,564.0Z" fill="url(#garm)" stroke="#231f20" stroke-width="0.8" />
<path d="M680.0,567.5 C679.3,563.7 680.7,559.8 684.0,557.0 C687.3,554.2 687.3,553.3 700.0,551.0 C712.7,548.7 742.4,545.2 760.0,543.0 C777.6,540.8 795.8,538.0 805.5,537.7 C815.2,537.4 816.1,539.3 818.0,541.0 C819.9,542.7 821.7,545.3 817.0,548.0 C812.3,550.7 802.8,553.0 790.0,557.0 C777.2,561.0 754.4,567.8 740.0,572.0 C725.6,576.2 712.2,580.7 703.5,582.0 C694.8,583.3 691.9,582.4 688.0,580.0 C684.1,577.6 680.7,571.3 680.0,567.5Z" fill="url(#gslot)" stroke="#231f20" stroke-width="0.8" />
<ellipse cx="669.5" cy="603.6" rx="15" ry="8.5" fill="#bcbec0" stroke="#58595b" stroke-width="1" />
<ellipse cx="882" cy="523" rx="9.4" ry="5.2" fill="#d1d3d4" stroke="#58595b" stroke-width="1" />
<ellipse cx="916" cy="513" rx="9.4" ry="5.2" fill="#d1d3d4" stroke="#58595b" stroke-width="1" />
<ellipse cx="883" cy="524" rx="5.5" ry="3" fill="#bcbec0" />
<ellipse cx="917" cy="514" rx="5.5" ry="3" fill="#bcbec0" />
<path d="M948.0,515.6 L1069.0,479.0 L1069.0,485.0 L948.0,525.0Z" fill="#939598" />
<path d="M920.0,495.0 L945.7,482.5 L1081.7,462.0 L1101.0,464.6 L1102.0,469.7 L1069.0,479.0 L948.0,515.6 L948.0,514.0Z" fill="#cdced0" stroke="#231f20" stroke-width="0.6" />
<path d="M1064.0,468.0 L1081.7,462.0 L1101.0,464.6 L1102.0,469.7 L1069.0,479.0Z" fill="#a7a9ac" stroke="#231f20" stroke-width="0.6" />
<path d="M699.0,628.0 L716.0,616.0 L831.0,572.0 L843.7,571.7 L899.0,548.0 L907.5,535.6 L945.7,525.0 L1064.7,476.0" fill="none" stroke="#e8e337" stroke-width="1.2" />
<ellipse cx="565.5" cy="610" rx="70" ry="43.5" fill="url(#ghb)" stroke="#231f20" stroke-width="0.8" />
<ellipse cx="567" cy="608.7" rx="61" ry="38.4" fill="url(#ghb3)" stroke="#58595b" stroke-width="0.8" />
<ellipse cx="569" cy="607.6" rx="54" ry="33.6" fill="url(#ghb2)" stroke="#6d6e71" stroke-width="0.8" />
<ellipse cx="570.6" cy="610.2" rx="43" ry="25" fill="url(#ghb3)" stroke="#58595b" stroke-width="0.8" />
<ellipse cx="570.6" cy="610.2" rx="38" ry="21.5" fill="url(#ghb2)" stroke="#808285" stroke-width="0.6" />
<path d="M548.1,589 L548.1,608 A22.5,9.4 0 0 0 593.1,608 L593.1,589 Z" fill="url(#ghb)" stroke="#231f20" stroke-width="0.8" />
<ellipse cx="570.6" cy="589" rx="22.5" ry="9.4" fill="#e6e7e8" stroke="#231f20" stroke-width="0.8" />
<path d="M551,587.5 L590,584.5 L590,588.5 L551,591.5 Z" fill="#a7a9ac" stroke="#231f20" stroke-width="0.6" />
<ellipse cx="570.6" cy="588.5" rx="8" ry="3.6" fill="#bcbec0" stroke="#231f20" stroke-width="0.6" />
<path d="M563,589.5 A8,3.6 0 0 0 578.5,588.5" fill="none" stroke="#58595b" stroke-width="1" />
<path d="M690.0,622.0 L698.0,621.0 L698.0,702.0 L690.0,700.0Z" fill="#808285" />
<path d="M698.0,621.0 L719.0,615.6 L719.0,629.0 L698.0,634.0Z" fill="#f1f2f2" stroke="#6d6e71" stroke-width="0.8" />
<path d="M698.0,659.0 L719.0,653.6 L719.0,667.0 L698.0,672.0Z" fill="#f1f2f2" stroke="#6d6e71" stroke-width="0.8" />
<path d="M698.0,697.0 L719.0,691.6 L719.0,705.0 L698.0,710.0Z" fill="#f1f2f2" stroke="#6d6e71" stroke-width="0.8" />
<path d="M750.0,654.0 L836.0,633.0 L836.0,640.0 L750.0,662.0 L719.0,669.0 L719.0,662.0Z" fill="#58595b" />
<path d="M719.0,655.5 L836.0,627.0 L836.0,633.0 L719.0,662.0Z" fill="#cfd0d2" stroke="#808285" stroke-width="0.5" />
<path d="M719,658.5 L836,630" fill="none" stroke="#7fb069" stroke-width="0.8" />
<path d="M831.0,637.0 L838.0,636.0 L838.0,643.0 L831.0,644.0Z" fill="#231f20" />
<path d="M750.0,692.0 L836.0,671.0 L836.0,678.0 L750.0,700.0 L719.0,707.0 L719.0,700.0Z" fill="#58595b" />
<path d="M719.0,693.5 L836.0,665.0 L836.0,671.0 L719.0,700.0Z" fill="#cfd0d2" stroke="#808285" stroke-width="0.5" />
<path d="M719,696.5 L836,668" fill="none" stroke="#7fb069" stroke-width="0.8" />
<path d="M831.0,673.0 L838.0,672.0 L838.0,679.0 L831.0,680.0Z" fill="#231f20" />
<path d="M600.0,649.0 L690.0,616.0 L692.0,696.0 L605.0,735.0Z" fill="#d9a441" stroke="#b9852f" stroke-width="0.8" />
<path d="M625.8,674.0 L671.4,660.5 L673.0,692.6 L637.6,696.0Z" fill="#414042" />
<path d="M625.8,674.0 L671.4,660.5 L671.8,666.0 L627.0,680.0Z" fill="#6d6e71" />
<path d="M615.7,686.0 L637.6,682.4 L639.3,694.0 L617.4,697.0Z" fill="#a7a9ac" />
<path d="M618.0,686.0 L619.5,696.5" fill="none" stroke="#58595b" stroke-width="1" />
<path d="M621.6,685.45 L623.1,696.0" fill="none" stroke="#58595b" stroke-width="1" />
<path d="M625.2,684.9 L626.7,695.5" fill="none" stroke="#58595b" stroke-width="1" />
<path d="M628.8,684.35 L630.3,695.0" fill="none" stroke="#58595b" stroke-width="1" />
<path d="M632.4,683.8 L633.9,694.5" fill="none" stroke="#58595b" stroke-width="1" />
<path d="M636.0,683.25 L637.5,694.0" fill="none" stroke="#58595b" stroke-width="1" />
<ellipse cx="619" cy="659" rx="5" ry="6" fill="#d1d3d4" stroke="#6d6e71" stroke-width="0.8" />
<ellipse cx="618" cy="657.5" rx="2.6" ry="3" fill="#ffffff" />
<ellipse cx="640" cy="650.5" rx="5" ry="6" fill="#d1d3d4" stroke="#6d6e71" stroke-width="0.8" />
<ellipse cx="639" cy="649.0" rx="2.6" ry="3" fill="#ffffff" />
<ellipse cx="681" cy="638" rx="5" ry="6" fill="#d1d3d4" stroke="#6d6e71" stroke-width="0.8" />
<ellipse cx="680" cy="636.5" rx="2.6" ry="3" fill="#ffffff" />
<ellipse cx="681" cy="679" rx="5" ry="6" fill="#d1d3d4" stroke="#6d6e71" stroke-width="0.8" />
<ellipse cx="680" cy="677.5" rx="2.6" ry="3" fill="#ffffff" />
<path d="M578.6,668.0 C581.1,671.8 582.8,685.4 593.7,690.9 C604.6,696.4 621.5,699.6 644.0,701.0 C666.5,702.4 703.4,699.3 728.7,699.0 C754.0,698.7 773.5,697.8 796.0,699.0 C818.5,700.2 841.2,702.3 863.7,706.0 C886.2,709.7 908.5,714.5 931.0,721.0 C953.5,727.5 980.7,737.7 998.7,745.0 C1016.7,752.3 1028.8,758.3 1039.0,765.0 C1049.2,771.7 1055.5,777.7 1060.0,785.0 C1064.5,792.3 1065.5,797.7 1066.0,809.0 C1066.5,820.3 1063.5,845.7 1063.0,853.0 L1020.0,843.0 L874.0,780.0 C870.0,782.8 866.5,794.0 850.0,797.0 C833.5,800.0 806.3,798.2 775.0,798.0 C743.7,797.8 692.5,799.0 662.0,796.0 C631.5,793.0 603.7,782.7 592.0,780.0 C590.5,769.8 585.2,737.7 583.0,719.0 C580.8,700.3 579.3,676.5 578.6,668.0Z" fill="url(#grib)" />
<clipPath id="crib"><path d="M578.6,668.0 C581.1,671.8 582.8,685.4 593.7,690.9 C604.6,696.4 621.5,699.6 644.0,701.0 C666.5,702.4 703.4,699.3 728.7,699.0 C754.0,698.7 773.5,697.8 796.0,699.0 C818.5,700.2 841.2,702.3 863.7,706.0 C886.2,709.7 908.5,714.5 931.0,721.0 C953.5,727.5 980.7,737.7 998.7,745.0 C1016.7,752.3 1028.8,758.3 1039.0,765.0 C1049.2,771.7 1055.5,777.7 1060.0,785.0 C1064.5,792.3 1065.5,797.7 1066.0,809.0 C1066.5,820.3 1063.5,845.7 1063.0,853.0 L1020.0,843.0 L874.0,780.0 C870.0,782.8 866.5,794.0 850.0,797.0 C833.5,800.0 806.3,798.2 775.0,798.0 C743.7,797.8 692.5,799.0 662.0,796.0 C631.5,793.0 603.7,782.7 592.0,780.0 C590.5,769.8 585.2,737.7 583.0,719.0 C580.8,700.3 579.3,676.5 578.6,668.0Z"/></clipPath>
<g clip-path="url(#crib)">
<path d="M574.0,674.5 C576.3,679.1 576.5,695.6 588.1,702.1 C599.6,708.6 619.8,711.9 643.3,713.5 C666.7,715.1 703.5,711.8 728.9,711.5 C754.2,711.2 773.2,710.3 795.4,711.5 C817.5,712.6 839.7,714.7 861.7,718.3 C883.7,721.9 905.5,726.6 927.5,733.0 C949.6,739.4 976.5,749.5 994.0,756.6 C1011.4,763.7 1022.9,769.6 1032.2,775.5 C1041.4,781.3 1045.8,785.9 1049.3,791.5 C1052.9,797.2 1053.3,799.4 1053.5,809.6 C1053.7,819.7 1051.0,845.0 1050.5,852.1" fill="none" stroke="#a8622a" stroke-width="8" opacity="0.6" stroke-linecap="butt"/>
<path d="M574.0,691.0 C575.1,695.3 569.3,710.3 580.6,716.8 C592.0,723.3 617.5,728.1 642.3,729.9 C667.0,731.8 703.7,728.3 729.1,728.0 C754.5,727.7 772.8,726.9 794.5,728.0 C816.2,729.1 837.6,731.1 859.0,734.6 C880.4,738.1 901.5,742.7 923.0,748.9 C944.4,755.1 971.1,765.1 987.8,771.9 C1004.5,778.6 1015.2,784.6 1023.2,789.3 C1031.1,794.0 1033.0,796.7 1035.3,800.2 C1037.6,803.7 1037.2,801.8 1037.0,810.3 C1036.8,818.8 1034.6,844.2 1034.1,851.0" fill="none" stroke="#a8622a" stroke-width="8" opacity="0.6" stroke-linecap="butt"/>
</g>
<path d="M578.0,672.0 C580.0,674.7 584.7,684.3 590.0,688.0 C595.3,691.7 607.3,692.0 610.0,694.0 C612.7,696.0 610.2,698.2 606.0,700.0 C601.8,701.8 589.7,709.7 585.0,705.0 C580.3,700.3 579.2,677.5 578.0,672.0Z" fill="#7a3e1e" />
<path d="M1213.0,764.0 C1214.0,763.3 1211.5,759.0 1219.0,760.0 C1226.5,761.0 1251.5,768.3 1258.0,770.0 L1258.0,1000.0 L1190.0,1095.0 L1150.0,1085.0 L1165.0,881.0 L1213.0,764.0Z" fill="#939598" />
<path d="M1219.0,770.0 L1256.0,777.5 L1256.0,1000.0 L1195.0,1088.0 L1160.0,1080.0 L1171.0,881.0 L1219.0,770.0Z" fill="#0ba36b" />
<path d="M1208.0,780.0 L1246.0,790.0 L1240.0,812.0 L1205.0,800.0Z" fill="#00756a" />
<path d="M1197.0,876.0 L1216.0,852.0 L1229.0,848.0 L1229.0,1000.0 L1208.0,1025.0 L1184.0,1022.0 L1190.0,950.0 L1203.0,925.0 L1196.0,905.0Z" fill="#00756a" />
<path d="M1180.0,1040.0 L1215.0,1050.0 L1200.0,1085.0 L1175.0,1080.0Z" fill="#00756a" />
<path d="M1228.0,890.0 L1209.0,932.0 L1219.5,955.0 L1219.5,986.0 L1204.0,1012.0 L1188.0,1009.0" fill="none" stroke="#b5823c" stroke-width="2.7" stroke-linejoin="miter"/>
<path d="M1223.7,891.0 L1204.7,933.0 L1215.2,956.0 L1215.2,987.0 L1199.7,1013.0 L1185.4,1012.5" fill="none" stroke="#b5823c" stroke-width="2.7" stroke-linejoin="miter"/>
<path d="M1219.4,892.0 L1200.4,934.0 L1210.9,957.0 L1210.9,988.0 L1195.4,1014.0 L1182.8,1016.0" fill="none" stroke="#b5823c" stroke-width="2.7" stroke-linejoin="miter"/>
<path d="M1215.1,893.0 L1196.1,935.0 L1206.6,958.0 L1206.6,989.0 L1191.1,1015.0 L1180.3,1019.5" fill="none" stroke="#b5823c" stroke-width="2.7" stroke-linejoin="miter"/>
<path d="M1220.0,792.0 L1235.0,795.0 L1232.0,806.0 L1217.0,803.0Z" fill="#e6e7e8" />
<path d="M1186.0,1036.0 L1200.0,1039.0 L1197.0,1049.0 L1183.0,1046.0Z" fill="#e6e7e8" />
<ellipse cx="1199.5" cy="873.5" rx="6" ry="5" fill="#e6e7e8" />
<path d="M817.5,874.0 L830.0,949.0 L836.0,959.0 L836.0,1012.0 L817.5,1003.0Z" fill="#a7a9ac" />
<path d="M836.0,959.0 L1147.0,1037.0 L1139.0,1093.0 L836.0,1012.0Z" fill="url(#gcf)" />
<path d="M1147.0,1037.0 L1199.0,896.0 L1192.0,1000.0 L1178.0,1086.0 L1137.0,1093.0Z" fill="#dcddde" />
<path d="M875.0,779.0 L1012.0,816.0 L1018.0,822.0 L1013.0,843.0 L1187.0,888.0 L1197.0,897.0 L1146.0,1035.0 L838.0,958.0 L832.0,948.0 L854.0,896.0 L848.0,889.0 L826.0,881.0 L819.5,873.0 L865.0,785.0Z" fill="#e9eaeb" stroke="#e9eaeb" stroke-width="4" stroke-linejoin="round"/>
<path d="M819.5,873.0 L826.0,881.0 L848.0,889.0 L854.0,896.0 L832.0,948.0 L838.0,958.0 L1146.0,1035.0" fill="none" stroke="#f8f8f8" stroke-width="2" stroke-linejoin="round"/>
<path d="M878.0,796.0 L999.0,826.0 L964.0,902.5 L842.5,868.0Z" fill="url(#gcop)" />
<clipPath id="ch1"><path d="M878.0,796.0 L999.0,826.0 L964.0,902.5 L842.5,868.0Z"/></clipPath>
<g clip-path="url(#ch1)" fill="none" stroke="#8e4a22" stroke-width="0.8"><ellipse cx="957" cy="897" rx="5.0" ry="4.0"/><ellipse cx="957" cy="897" rx="7.7" ry="6.2"/><ellipse cx="957" cy="897" rx="10.4" ry="8.3"/><ellipse cx="957" cy="897" rx="13.1" ry="10.5"/><ellipse cx="957" cy="897" rx="15.8" ry="12.6"/><ellipse cx="957" cy="897" rx="18.5" ry="14.8"/><ellipse cx="957" cy="897" rx="21.2" ry="17.0"/><ellipse cx="957" cy="897" rx="23.9" ry="19.1"/><ellipse cx="957" cy="897" rx="26.6" ry="21.3"/><ellipse cx="957" cy="897" rx="29.3" ry="23.4"/><ellipse cx="957" cy="897" rx="32.0" ry="25.6"/><ellipse cx="957" cy="897" rx="34.7" ry="27.8"/><ellipse cx="957" cy="897" rx="37.4" ry="29.9"/><ellipse cx="957" cy="897" rx="40.1" ry="32.1"/><ellipse cx="957" cy="897" rx="42.8" ry="34.2"/><ellipse cx="957" cy="897" rx="45.5" ry="36.4"/><ellipse cx="957" cy="897" rx="48.2" ry="38.6"/><ellipse cx="957" cy="897" rx="50.9" ry="40.7"/><ellipse cx="957" cy="897" rx="53.6" ry="42.9"/><ellipse cx="957" cy="897" rx="56.3" ry="45.0"/><ellipse cx="957" cy="897" rx="59.0" ry="47.2"/><ellipse cx="957" cy="897" rx="61.7" ry="49.4"/><ellipse cx="957" cy="897" rx="64.4" ry="51.5"/><ellipse cx="957" cy="897" rx="67.1" ry="53.7"/><ellipse cx="957" cy="897" rx="69.8" ry="55.8"/><ellipse cx="957" cy="897" rx="72.5" ry="58.0"/><ellipse cx="957" cy="897" rx="75.2" ry="60.2"/><ellipse cx="957" cy="897" rx="77.9" ry="62.3"/></g>
<path d="M878.0,796.0 L879.0,878.4 L842.5,868.0Z" fill="#dcddde" />
<path d="M878.0,796.0 L999.0,826.0 L996.0,835.0 L879.0,806.0Z" fill="#c4c6c8" />
<path d="M1003.0,862.0 L1081.5,880.6 L1062.8,927.5 L983.0,904.0Z" fill="#a9abae" />
<path d="M1003.0,862.0 L1004.0,910.2 L983.0,904.0Z" fill="#d1d3d4" />
<path d="M1003.0,862.0 L1081.5,880.6 L1076.5,892.6 L1007.0,876.0Z" fill="#c4c6c8" />
<path d="M1103.0,885.0 L1177.0,904.0 L1159.7,952.5 L1081.5,930.6Z" fill="#a9abae" />
<path d="M1103.0,885.0 L1104.0,936.9 L1081.5,930.6Z" fill="#d1d3d4" />
<path d="M1103.0,885.0 L1177.0,904.0 L1172.0,916.0 L1107.0,899.0Z" fill="#c4c6c8" />
<path d="M873.8,899.0 L955.0,919.7 L934.7,966.5 L852.0,944.7Z" fill="#a9abae" />
<path d="M873.8,899.0 L874.8,950.7 L852.0,944.7Z" fill="#d1d3d4" />
<path d="M873.8,899.0 L955.0,919.7 L950.0,931.7 L877.8,913.0Z" fill="#c4c6c8" />
<path d="M975.0,926.0 L1055.0,944.7 L1036.0,994.7 L953.4,971.0Z" fill="#a9abae" />
<path d="M975.0,926.0 L976.0,977.5 L953.4,971.0Z" fill="#d1d3d4" />
<path d="M975.0,926.0 L1055.0,944.7 L1050.0,956.7 L979.0,940.0Z" fill="#c4c6c8" />
<path d="M1073.8,952.5 L1150.0,971.0 L1134.7,1019.7 L1053.4,997.8Z" fill="#a9abae" />
<path d="M1073.8,952.5 L1074.8,1003.6 L1053.4,997.8Z" fill="#d1d3d4" />
<path d="M1073.8,952.5 L1150.0,971.0 L1145.0,983.0 L1077.8,966.5Z" fill="#c4c6c8" />
<path d="M1258.0,659.0 C1258.2,662.7 1257.2,674.2 1259.0,681.0 C1260.8,687.8 1263.7,693.7 1269.0,700.0 C1274.3,706.3 1285.3,711.7 1291.0,719.0 C1296.7,726.3 1301.5,734.7 1303.0,744.0 C1304.5,753.3 1303.2,766.2 1300.0,775.0 C1296.8,783.8 1291.0,792.8 1284.0,797.0 C1277.0,801.2 1262.3,799.5 1258.0,800.0 L1258.0,659.0Z" fill="#6d6e71" />
<path d="M1258,655 L1258,800" fill="none" stroke="#e6e7e8" stroke-width="1.5" />
<path d="M1229.0,842.0 C1230.8,844.5 1235.7,853.0 1240.0,857.0 C1244.3,861.0 1251.0,863.0 1255.0,866.0 C1259.0,869.0 1261.8,870.0 1264.0,875.0 C1266.2,880.0 1267.8,892.5 1268.5,896.0 L1249.0,950.0 L1226.5,1001.0 L1225.6,842.0 L1229.0,842.0Z" fill="#6d6e71" />
<path d="M1226,842 L1226,1001 L1268,896" fill="none" stroke="#cfe6e0" stroke-width="1.2" />
<path d="M1284.0,797.0 C1279.7,797.2 1265.3,796.8 1258.0,798.5 C1250.7,800.2 1244.5,803.8 1240.0,807.5 C1235.5,811.2 1232.8,815.8 1231.0,821.0 C1229.2,826.2 1228.0,833.0 1229.5,839.0 C1231.0,845.0 1235.8,852.5 1240.0,857.0 C1244.2,861.5 1251.0,863.0 1255.0,866.0 C1259.0,869.0 1261.8,870.0 1264.0,875.0 C1266.2,880.0 1267.8,892.5 1268.5,896.0 L1290.0,880.0 L1310.0,790.0 L1284.0,797.0Z" fill="#a7a9ac" stroke="#e6e7e8" stroke-width="1" />
<ellipse cx="1262.5" cy="828.5" rx="16.5" ry="10.5" fill="#58595b" />
<ellipse cx="374.5" cy="478" rx="16.5" ry="9.6" fill="#58595b" />
<ellipse cx="717" cy="51" rx="16" ry="10" fill="#58595b" />
<ellipse cx="1465" cy="222" rx="16" ry="10" fill="#58595b" />
<path d="M1303.0,744.0 L1327.0,740.0 L1282.0,881.0 L1236.0,1040.0 L1214.5,1040.0 L1226.5,1001.0 L1249.0,950.0 L1268.5,896.0 L1284.0,797.0Z" fill="#a7a9ac" />
<path d="M760.0,1110.0 L1176.0,1226.0 L1173.0,1237.0 L760.0,1121.0Z" fill="#66b29c" />
<path d="M960.0,1165.8 L1176.0,1226.0 L1175.5,1228.5 L960.0,1168.0Z" fill="#0d7a63" />
<path d="M62.0,905.0 L760.0,1110.0 L780.0,1100.0 L760.0,1070.0 L60.0,885.0Z" fill="#636466" />
<path d="M760.0,1083.0 L1150.0,1191.0 C1151.2,1191.6 1153.8,1194.7 1157.5,1194.5 C1161.2,1194.3 1168.0,1193.2 1172.5,1190.0 C1177.0,1186.8 1180.2,1183.8 1184.5,1175.0 C1188.8,1166.2 1191.2,1155.0 1198.0,1137.5 C1204.8,1120.0 1218.7,1086.2 1225.0,1070.0 C1231.3,1053.8 1234.2,1045.0 1236.0,1040.0 L1258.0,1040.0 L1229.5,1130.0 L1204.0,1199.0 L1195.0,1196.0 C1193.5,1199.3 1189.0,1211.0 1186.0,1216.0 C1183.0,1221.0 1178.5,1224.3 1177.0,1226.0 L760.0,1110.0 L760.0,1083.0Z" fill="#a7a9ac" />
<path d="M760.0,1083.0 L1150.0,1191.0 L1162.0,1198.0 L1150.0,1201.0 L760.0,1110.0Z" fill="#808285" />
<path d="M1100.0,1183.0 L1150.0,1196.5 C1151.7,1196.9 1155.7,1199.2 1160.0,1199.0 C1164.3,1198.8 1171.2,1198.2 1176.0,1195.0 C1180.8,1191.8 1184.5,1189.2 1189.0,1180.0 C1193.5,1170.8 1196.2,1158.2 1203.0,1140.0 C1209.8,1121.8 1223.8,1087.7 1230.0,1071.0 C1236.2,1054.3 1238.8,1045.2 1240.5,1040.0" fill="none" stroke="#7d7f82" stroke-width="9" stroke-linejoin="round"/>
<path d="M92.0,913.0 L760.0,1109.0 L773.0,1117.0 L773.0,1136.0 L764.0,1154.0 L745.0,1158.0 L724.7,1148.0 L713.8,1170.0 L598.0,1136.0 L598.0,1110.0 L588.8,1117.0 L485.6,1098.0 L470.0,1064.0 L451.0,1087.0 L440.0,1086.0 L438.8,1073.0 L133.0,1001.0 L112.0,995.0 L106.0,971.0 L97.0,965.0Z" fill="url(#ghouse)" />
<path d="M92.0,920.0 L103.4,922.8 L106.0,971.0 L97.0,965.0Z" fill="#d1d3d4" stroke="#6d6e71" stroke-width="0.6" />
<path d="M103.4,922.8 L108.0,924.7 L110.0,961.0 L106.0,970.6Z" fill="#262626" />
<path d="M132.5,939.7 L468.0,1035.0 L470.0,1064.0 L448.0,1054.0 L111.0,958.0Z" fill="#9a9da1" stroke="#414042" stroke-width="0.8" />
<path d="M111.0,958.0 L448.0,1054.0 L448.0,1060.0 L111.0,963.5Z" fill="#c9cdd1" stroke="#58595b" stroke-width="0.5" />
<path d="M111.0,958.0 L117.0,959.5 L118.0,990.0 L131.0,994.0 L142.0,982.0 L146.0,984.0 L133.0,1001.0 L112.0,995.0Z" fill="#c9cdd1" stroke="#414042" stroke-width="0.8" />
<path d="M128.0,964.5 L146.0,969.5 L135.0,989.0 L120.0,988.0 L118.0,972.0Z" fill="#262626" />
<path d="M118.0,972.0 L128.0,975.0 L124.0,988.0 L119.0,988.0Z" fill="#808285" />
<path d="M151.0,968.0 L440.0,1050.0 L434.0,1066.0 L143.8,983.8Z" fill="#85878a" stroke="#414042" stroke-width="0.6" />
<path d="M143.8,983.8 L434.0,1066.0 L434.0,1073.0 L143.8,991.0Z" fill="#bfc3c7" stroke="#58595b" stroke-width="0.6" />
<path d="M154.0,993.9 L160.0,995.6 L160.0,999.1 L154.0,997.4Z" fill="#c8963e" />
<path d="M172.6,999.2 L178.6,1000.9 L178.6,1004.4 L172.6,1002.7Z" fill="#c8963e" />
<path d="M191.2,1004.4 L197.2,1006.1 L197.2,1009.6 L191.2,1007.9Z" fill="#c8963e" />
<path d="M209.8,1009.7 L215.8,1011.4 L215.8,1014.9 L209.8,1013.2Z" fill="#c8963e" />
<path d="M228.4,1014.9 L234.4,1016.6 L234.4,1020.1 L228.4,1018.4Z" fill="#c8963e" />
<path d="M247.0,1020.2 L253.0,1021.9 L253.0,1025.4 L247.0,1023.7Z" fill="#c8963e" />
<path d="M265.6,1025.4 L271.6,1027.1 L271.6,1030.6 L265.6,1028.9Z" fill="#c8963e" />
<path d="M284.2,1030.7 L290.2,1032.4 L290.2,1035.9 L284.2,1034.2Z" fill="#c8963e" />
<path d="M302.8,1035.9 L308.8,1037.6 L308.8,1041.1 L302.8,1039.4Z" fill="#c8963e" />
<path d="M321.4,1041.2 L327.4,1042.9 L327.4,1046.4 L321.4,1044.7Z" fill="#c8963e" />
<path d="M340.0,1046.4 L346.0,1048.1 L346.0,1051.6 L340.0,1049.9Z" fill="#c8963e" />
<path d="M358.6,1051.7 L364.6,1053.4 L364.6,1056.9 L358.6,1055.2Z" fill="#c8963e" />
<path d="M377.2,1056.9 L383.2,1058.6 L383.2,1062.1 L377.2,1060.4Z" fill="#c8963e" />
<path d="M395.8,1062.2 L401.8,1063.9 L401.8,1067.4 L395.8,1065.7Z" fill="#c8963e" />
<path d="M414.4,1067.5 L420.4,1069.2 L420.4,1072.7 L414.4,1071.0Z" fill="#c8963e" />
<path d="M433.0,1072.7 L439.0,1074.4 L439.0,1077.9 L433.0,1076.2Z" fill="#c8963e" />
<path d="M434.0,1066.0 L448.0,1060.0 L470.0,1064.0 L451.0,1087.0 L440.0,1086.0 L438.8,1073.0Z" fill="#85878a" stroke="#414042" stroke-width="0.8" />
<path d="M438.8,1073.0 L451.0,1076.0 L451.0,1087.0 L440.0,1086.0Z" fill="#c9cdd1" stroke="#414042" stroke-width="0.6" />
<path d="M493.4,1067.0 L599.7,1095.0 L599.7,1104.5 L588.8,1117.0 L485.6,1098.0 L485.6,1079.5Z" fill="#808285" stroke="#414042" stroke-width="0.8" />
<path d="M485.6,1079.5 L588.8,1106.0 L588.8,1117.0 L485.6,1098.0Z" fill="#c9cdd1" stroke="#414042" stroke-width="0.6" />
<path d="M493.0,1088.0 L582.0,1111.0 L582.0,1114.0 L493.0,1092.0Z" fill="#58595b" />
<path d="M498.0,1092.3 L503.0,1093.6 L503.0,1096.3 L498.0,1095.0Z" fill="#c8963e" />
<path d="M510.5,1095.5 L515.5,1096.8 L515.5,1099.5 L510.5,1098.2Z" fill="#c8963e" />
<path d="M523.0,1098.7 L528.0,1100.0 L528.0,1102.7 L523.0,1101.4Z" fill="#c8963e" />
<path d="M535.5,1102.0 L540.5,1103.3 L540.5,1106.0 L535.5,1104.7Z" fill="#c8963e" />
<path d="M548.0,1105.2 L553.0,1106.5 L553.0,1109.2 L548.0,1107.9Z" fill="#c8963e" />
<path d="M560.5,1108.4 L565.5,1109.7 L565.5,1112.4 L560.5,1111.1Z" fill="#c8963e" />
<path d="M573.0,1111.6 L578.0,1112.9 L578.0,1115.6 L573.0,1114.3Z" fill="#c8963e" />
<path d="M599.7,1095.0 L617.0,1099.0 L626.0,1098.0 L663.8,1104.5 L663.8,1087.0 L600.0,1070.0Z" fill="#8e9093" />
<path d="M617.0,1117.0 L626.0,1098.0 L663.8,1104.5 L724.7,1129.5 L724.7,1148.0 L713.8,1170.0 L598.0,1135.8 L598.0,1132.6Z" fill="#a7a9ac" stroke="#414042" stroke-width="0.8" />
<path d="M618.4,1120.0 L713.8,1142.0 L712.0,1160.8 L618.4,1135.8Z" fill="#262626" />
<path d="M598.0,1123.0 L610.0,1126.0 L610.0,1134.0 L598.0,1131.0Z" fill="#262626" />
<path d="M629.0,1126.0 L637.0,1128.0 L636.0,1138.0 L628.0,1136.0Z" fill="#d9a441" />
<path d="M652.0,1133.0 L660.0,1135.0 L659.0,1145.0 L651.0,1143.0Z" fill="#d9a441" />
<path d="M674.0,1137.0 L682.0,1139.0 L681.0,1149.0 L673.0,1147.0Z" fill="#d9a441" />
<path d="M698.0,1147.0 L706.0,1149.0 L705.0,1159.0 L697.0,1157.0Z" fill="#d9a441" />
<path d="M670.0,1112.0 L679.0,1114.0 L658.0,1138.0 L650.0,1136.0Z" fill="#d9a441" />
<path d="M670.0,1087.0 L729.0,1101.0 L773.0,1117.0 L773.0,1135.8 L763.8,1154.5 L745.0,1157.6 L724.7,1148.0 L724.7,1129.5 L663.8,1104.5Z" fill="#8e9093" stroke="#58595b" stroke-width="0.6" />
<path d="M670.0,1087.0 L729.0,1101.0 L724.7,1129.5 L663.8,1104.5Z" fill="#a3a7ab" />
<path d="M731.0,1101.0 L737.0,1103.0 L737.0,1150.0 L731.0,1148.0Z" fill="#262626" />
<path d="M440.0,942.0 C443.7,938.7 453.0,928.0 462.0,922.0 C471.0,916.0 485.0,911.2 494.0,906.0 C503.0,900.8 508.2,894.8 516.0,891.0 C523.8,887.2 532.7,884.2 541.0,883.0 C549.3,881.8 559.3,881.2 566.0,884.0 C572.7,886.8 577.4,892.7 581.0,900.0 C584.6,907.3 583.8,920.7 587.5,928.0 C591.2,935.3 595.2,939.3 603.0,944.0 C610.8,948.7 628.8,954.0 634.0,956.0 L775.0,997.0 L819.0,1005.0 L900.0,1027.0 L1120.0,1084.0 C1125.0,1085.0 1141.2,1088.6 1150.0,1090.0 C1158.8,1091.4 1167.0,1092.6 1172.5,1092.5 C1178.0,1092.4 1179.2,1091.5 1183.0,1089.5 C1186.8,1087.5 1191.5,1085.0 1195.0,1080.5 C1198.5,1076.0 1201.5,1069.2 1204.0,1062.5 C1206.5,1055.8 1209.0,1043.8 1210.0,1040.0 L1214.5,1040.0 C1212.8,1045.0 1207.2,1060.0 1204.0,1070.0 C1200.8,1080.0 1198.2,1091.0 1195.0,1100.0 C1191.8,1109.0 1188.8,1118.0 1184.5,1124.0 C1180.2,1130.0 1175.2,1134.2 1169.5,1136.0 C1163.8,1137.8 1153.2,1135.2 1150.0,1135.0 L440.0,942.0Z" fill="#a7a9ac" />
<ellipse cx="543" cy="909" rx="14" ry="9" fill="#58595b" />
<path d="M73.0,822.0 C73.5,825.8 74.2,840.0 76.0,845.0 C77.8,850.0 73.3,850.0 84.0,852.0 C94.7,854.0 130.7,856.2 140.0,857.0 L400.0,931.0 L650.0,1000.0 L900.0,1069.0 L1150.0,1135.0 C1153.2,1135.2 1163.8,1137.8 1169.5,1136.0 C1175.2,1134.2 1180.2,1130.0 1184.5,1124.0 C1188.8,1118.0 1191.8,1109.0 1195.0,1100.0 C1198.2,1091.0 1200.8,1080.0 1204.0,1070.0 C1207.2,1060.0 1210.8,1051.5 1214.5,1040.0 C1218.2,1028.5 1224.5,1007.5 1226.5,1001.0 L1249.0,950.0 L1268.5,896.0 L1282.0,881.0 C1274.3,907.5 1245.5,1008.5 1236.0,1040.0 C1226.5,1071.5 1231.3,1053.8 1225.0,1070.0 C1218.7,1086.2 1204.8,1120.0 1198.0,1137.5 C1191.2,1155.0 1188.8,1166.2 1184.5,1175.0 C1180.2,1183.8 1177.0,1186.8 1172.5,1190.0 C1168.0,1193.2 1161.2,1194.3 1157.5,1194.5 C1153.8,1194.7 1151.2,1191.6 1150.0,1191.0 L822.0,1100.0 L650.0,1053.0 L400.0,981.0 L60.0,888.0 L60.0,880.0 L70.0,850.0 L73.0,822.0Z" fill="url(#gband)" />
<path d="M76.0,845.0 C77.3,846.2 73.3,850.0 84.0,852.0 C94.7,854.0 130.7,856.2 140.0,857.0 L400.0,931.0 L650.0,1000.0 L900.0,1069.0 L1150.0,1135.0 C1153.2,1135.2 1163.8,1137.8 1169.5,1136.0 C1175.2,1134.2 1180.2,1130.0 1184.5,1124.0 C1188.8,1118.0 1191.8,1109.0 1195.0,1100.0 C1198.2,1091.0 1200.8,1080.0 1204.0,1070.0 C1207.2,1060.0 1210.8,1051.5 1214.5,1040.0 C1218.2,1028.5 1224.5,1007.5 1226.5,1001.0 L1249.0,950.0 L1268.5,896.0" fill="none" stroke="#f7f7f7" stroke-width="1.6" />
<path d="M60.0,880.0 L60.0,888.0 L63.0,907.0 L70.0,905.0Z" fill="#6d6e71" />
<path d="M1537.0,180.0 L1463.5,380.0 L1418.5,500.0 L1327.0,740.0 L1282.0,881.0 L1236.0,1040.0 L1244.5,1040.0 L1345.0,740.0 L1432.0,500.0 L1480.0,380.0 L1539.0,196.0Z" fill="url(#gside)" />
<path d="M1537.0,178.0 L1541.0,212.0 L1485.0,380.0 L1446.0,500.0 L1338.0,817.0 L1258.0,1040.0 L1229.5,1130.0 L1204.0,1199.0 L1195.0,1196.0 L1223.5,1130.0 L1247.5,1040.0 L1354.0,740.0 L1439.0,500.0 L1480.5,380.0 L1539.0,197.0Z" fill="#6d6e71" />
<path d="M1539.0,196.0 L1480.0,380.0 L1432.0,500.0 L1345.0,740.0 L1244.5,1040.0 L1219.0,1130.0 L1223.5,1130.0 L1247.5,1040.0 L1354.0,740.0 L1439.0,500.0 L1480.5,380.0Z" fill="#a7a9ac" />
<path d="M1537.0,180.0 L1463.5,380.0 L1418.5,500.0 L1327.0,740.0 L1282.0,881.0 L1236.0,1040.0" fill="none" stroke="#f4f4f4" stroke-width="1.5" />
<path d="M1480.0,380.0 L1432.0,500.0 L1345.0,740.0 L1244.5,1040.0" fill="none" stroke="#e6e7e8" stroke-width="1.2" />
<text x="377.5" y="138.75" font-size="38.5" text-anchor="start" font-weight="normal" textLength="127.5" lengthAdjust="spacingAndGlyphs">spindle</text>
<text x="313" y="257" font-size="38.5" text-anchor="start" font-weight="normal" textLength="74" lengthAdjust="spacingAndGlyphs">disk</text>
<text x="146" y="373" font-size="38.5" text-anchor="start" font-weight="normal" textLength="168" lengthAdjust="spacingAndGlyphs">saved file</text>
<text x="74" y="493" font-size="38.5" text-anchor="start" font-weight="normal" textLength="144" lengthAdjust="spacingAndGlyphs">actuator</text>
<text x="1583" y="56" font-size="38.5" text-anchor="end" font-weight="normal" textLength="278" lengthAdjust="spacingAndGlyphs">read/write head</text>
<text x="1583" y="731" font-size="38.5" text-anchor="end" font-weight="normal" textLength="68" lengthAdjust="spacingAndGlyphs">arm</text>
<text x="1583" y="1155" font-size="38.5" text-anchor="end" font-weight="normal" textLength="222" lengthAdjust="spacingAndGlyphs">circuit board</text>
<text x="33" y="1125" font-size="38.5" text-anchor="start" font-weight="normal" textLength="195" lengthAdjust="spacingAndGlyphs">power port</text>
<text x="205" y="1213" font-size="38.5" text-anchor="start" font-weight="normal" textLength="269" lengthAdjust="spacingAndGlyphs">data cable port</text>
<text x="307" y="1303" font-size="38.5" text-anchor="start" font-weight="normal" textLength="415" lengthAdjust="spacingAndGlyphs">drive configuration port</text>
<text x="1583" y="1317.5" font-size="31" text-anchor="end" font-weight="normal" textLength="555" lengthAdjust="spacingAndGlyphs">© 2013 Encyclopædia Britannica, Inc.</text>
<line x1="508" y1="138" x2="848" y2="286" stroke="#231f20" stroke-width="2.8" stroke-linecap="round"/>
<line x1="392" y1="246" x2="585" y2="268" stroke="#231f20" stroke-width="2.8" stroke-linecap="round"/>
<line x1="318" y1="362" x2="618" y2="375" stroke="#231f20" stroke-width="2.8" stroke-linecap="round"/>
<line x1="222" y1="488" x2="470" y2="588" stroke="#231f20" stroke-width="2.8" stroke-linecap="round"/>
<line x1="1298" y1="65" x2="1083" y2="459" stroke="#231f20" stroke-width="2.8" stroke-linecap="round"/>
<line x1="1505" y1="708" x2="870" y2="549" stroke="#231f20" stroke-width="2.8" stroke-linecap="round"/>
<line x1="1352" y1="1127" x2="1205" y2="888" stroke="#231f20" stroke-width="2.8" stroke-linecap="round"/>
<line x1="236" y1="1096" x2="331" y2="1046" stroke="#231f20" stroke-width="2.8" stroke-linecap="round"/>
<line x1="480" y1="1183" x2="543" y2="1103" stroke="#231f20" stroke-width="2.8" stroke-linecap="round"/>
<line x1="681" y1="1271" x2="657" y2="1140" stroke="#231f20" stroke-width="2.8" stroke-linecap="round"/>
</svg>
</body></html>
